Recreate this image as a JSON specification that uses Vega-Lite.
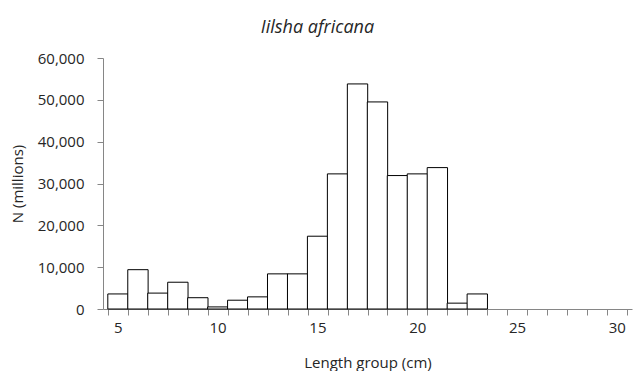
{
  "$schema": "https://vega.github.io/schema/vega-lite/v6.json",
  "autosize": {"type": "none"},
  "width": 529,
  "height": 251,
  "padding": {"left": 103, "top": 58, "right": 2, "bottom": 62},
  "background": "white",
  "config": {
    "view": {"stroke": null},
    "font": "Open Sans",
    "axis": {
      "grid": false,
      "domainColor": "#868686",
      "tickColor": "#868686",
      "tickSize": 6,
      "labelColor": "#262626",
      "titleColor": "#262626",
      "labelFontSize": 15,
      "titleFontSize": 15,
      "titleFontWeight": "normal"
    }
  },
  "title": {
    "text": "Iilsha africana",
    "fontStyle": "italic",
    "fontWeight": "normal",
    "fontSize": 18,
    "color": "#262626",
    "anchor": "middle",
    "dx": -50,
    "offset": 14
  },
  "data": {
    "values": [
      {"length": 5, "n": 3600},
      {"length": 6, "n": 9400},
      {"length": 7, "n": 3800},
      {"length": 8, "n": 6400},
      {"length": 9, "n": 2700},
      {"length": 10, "n": 500},
      {"length": 11, "n": 2100},
      {"length": 12, "n": 2900},
      {"length": 13, "n": 8400},
      {"length": 14, "n": 8400},
      {"length": 15, "n": 17400},
      {"length": 16, "n": 32300},
      {"length": 17, "n": 53800},
      {"length": 18, "n": 49500},
      {"length": 19, "n": 31900},
      {"length": 20, "n": 32300},
      {"length": 21, "n": 33800},
      {"length": 22, "n": 1400},
      {"length": 23, "n": 3600}
    ]
  },
  "mark": {"type": "bar", "width": 20.35, "fill": "white", "stroke": "black", "strokeWidth": 1},
  "encoding": {
    "x": {
      "field": "length",
      "type": "quantitative",
      "scale": {"domain": [4.5, 30.5], "nice": false, "zero": false},
      "axis": {
        "title": "Length group (cm)",
        "titlePadding": 20,
        "values": [4.5, 5.5, 6.5, 7.5, 8.5, 9.5, 10.5, 11.5, 12.5, 13.5, 14.5, 15.5, 16.5, 17.5, 18.5, 19.5, 20.5, 21.5, 22.5, 23.5, 24.5, 25.5, 26.5, 27.5, 28.5, 29.5, 30.5],
        "labelExpr": "datum.value % 5 == 0.5 ? format(datum.value - 0.5, 'd') : ''",
        "labelOffset": -10.17,
        "labelFlush": false,
        "labelOverlap": false,
        "labelPadding": 5
      }
    },
    "y": {
      "field": "n",
      "type": "quantitative",
      "scale": {"domain": [0, 60000], "nice": false},
      "axis": {
        "title": "N (millions)",
        "values": [0, 10000, 20000, 30000, 40000, 50000, 60000],
        "format": ",d",
        "labelPadding": 13,
        "titlePadding": 12
      }
    }
  }
}
